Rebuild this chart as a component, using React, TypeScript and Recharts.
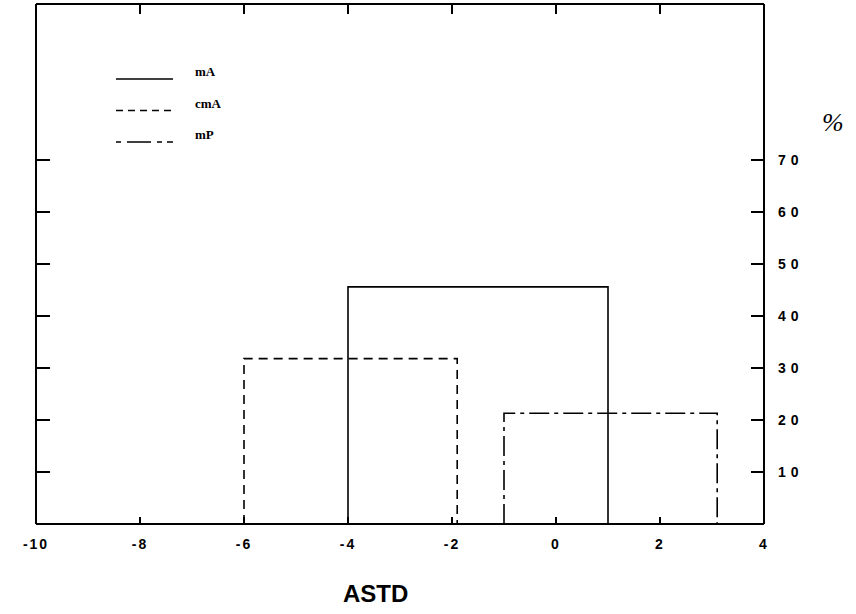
import React from "react";
import { ComposedChart, Line, XAxis, YAxis } from "recharts";

// x ticks (ASTD) and y ticks (%)
const xTicks = [-10, -8, -6, -4, -2, 0, 2, 4];
const topTicks = [-8, -6, -4, -2, 0, 2];
const yTicks = [10, 20, 30, 40, 50, 60, 70];

// Series: each is a single class interval [from, to] with a percentage
const seriesNames = ["mA", "cmA", "mP"];
const mAInterval = [-4, 1];
const mAValue = 45.6;
const cmAInterval = [-6, -1.9];
const cmAValue = 31.8;
const mPInterval = [-1, 3.1];
const mPValue = 21.3;

const outline = (iv: number[], v: number) => [
  { x: iv[0], y: 0 },
  { x: iv[0], y: v },
  { x: iv[1], y: v },
  { x: iv[1], y: 0 },
];

const mAData = outline(mAInterval, mAValue);
const cmAData = outline(cmAInterval, cmAValue);
const mPData = outline(mPInterval, mPValue);

const dashes = ["", "9 6", "20 5 4 5"];

const LegendBox = () => (
  <svg width={120} height={90}>
    {seriesNames.map((n, i) => (
      <g key={n}>
        <line
          x1={0}
          x2={57}
          y1={17 + i * 31.5}
          y2={17 + i * 31.5}
          stroke="#000"
          strokeWidth={1.6}
          strokeDasharray={i === 1 ? "7 5" : i === 2 ? "5 6 24 6 5" : undefined}
        />
        <text
          x={79}
          y={14 + i * 31.5}
          fontFamily="Liberation Serif"
          fontWeight="bold"
          fontSize={13}
          fill="#000"
        >
          {n}
        </text>
      </g>
    ))}
  </svg>
);

const blank = () => "";

export default function App() {
  return (
    <div style={{ position: "absolute", left: 0, top: 0, width: 856, height: 614, background: "#fff" }}>
      <ComposedChart
        width={856}
        height={614}
        margin={{ top: 4, right: 32, bottom: 60, left: 35 }}
      >
        <XAxis
          xAxisId="b"
          dataKey="x"
          type="number"
          domain={[-10, 4]}
          ticks={xTicks}
          allowDataOverflow
          height={30}
          stroke="#000"
          strokeWidth={2}
          tickSize={-7}
          tickMargin={22}
          tick={{
            fill: "#000",
            fontFamily: "Liberation Sans",
            fontWeight: "bold",
            fontSize: 14,
            letterSpacing: 2,
          }}
        />
        <XAxis
          xAxisId="t"
          orientation="top"
          dataKey="x"
          type="number"
          domain={[-10, 4]}
          ticks={topTicks}
          interval={0}
          allowDataOverflow
          height={8}
          mirror
          stroke="#000"
          strokeWidth={2}
          tickLine={{ stroke: "#000", strokeWidth: 2 }}
          tickSize={10}
          tickFormatter={blank}
        />
        <YAxis
          yAxisId="l"
          orientation="left"
          type="number"
          domain={[0, 100]}
          ticks={yTicks}
          interval={0}
          width={1}
          stroke="#000"
          strokeWidth={2}
          tickSize={-14}
          tickFormatter={blank}
        />
        <YAxis
          yAxisId="r"
          orientation="right"
          type="number"
          domain={[0, 100]}
          ticks={yTicks}
          width={60}
          stroke="#000"
          strokeWidth={2}
          tickSize={-13}
          tickMargin={27}
          tick={{
            fill: "#000",
            fontFamily: "Liberation Sans",
            fontWeight: "bold",
            fontSize: 14,
            letterSpacing: 5,
            textAnchor: "start",
          }}
        />
        <Line
          xAxisId="t"
          yAxisId="l"
          data={mAData}
          dataKey="y"
          type="linear"
          stroke="none"
          dot={false}
          isAnimationActive={false}
          legendType="none"
        />
        <Line
          xAxisId="b"
          yAxisId="r"
          data={mAData}
          dataKey="y"
          type="linear"
          stroke="#000"
          strokeWidth={1.6}
          dot={false}
          isAnimationActive={false}
          legendType="none"
        />
        <Line
          xAxisId="b"
          yAxisId="r"
          data={cmAData}
          dataKey="y"
          type="linear"
          stroke="#000"
          strokeWidth={1.6}
          strokeDasharray={dashes[1]}
          dot={false}
          isAnimationActive={false}
          legendType="none"
        />
        <Line
          xAxisId="b"
          yAxisId="r"
          data={mPData}
          dataKey="y"
          type="linear"
          stroke="#000"
          strokeWidth={1.6}
          strokeDasharray={dashes[2]}
          dot={false}
          isAnimationActive={false}
          legendType="none"
        />
      </ComposedChart>
      <div style={{ position: "absolute", left: 116, top: 62 }}>
        <LegendBox />
      </div>
      <div
        style={{
          position: "absolute",
          left: 822,
          top: 108,
          fontFamily: "Liberation Serif",
          fontStyle: "italic",
          fontSize: 26,
          color: "#000",
        }}
      >
        %
      </div>
      <div
        style={{
          position: "absolute",
          left: 343,
          top: 580,
          fontFamily: "Liberation Sans",
          fontWeight: "bold",
          fontSize: 24,
          color: "#000",
        }}
      >
        ASTD
      </div>
    </div>
  );
}
